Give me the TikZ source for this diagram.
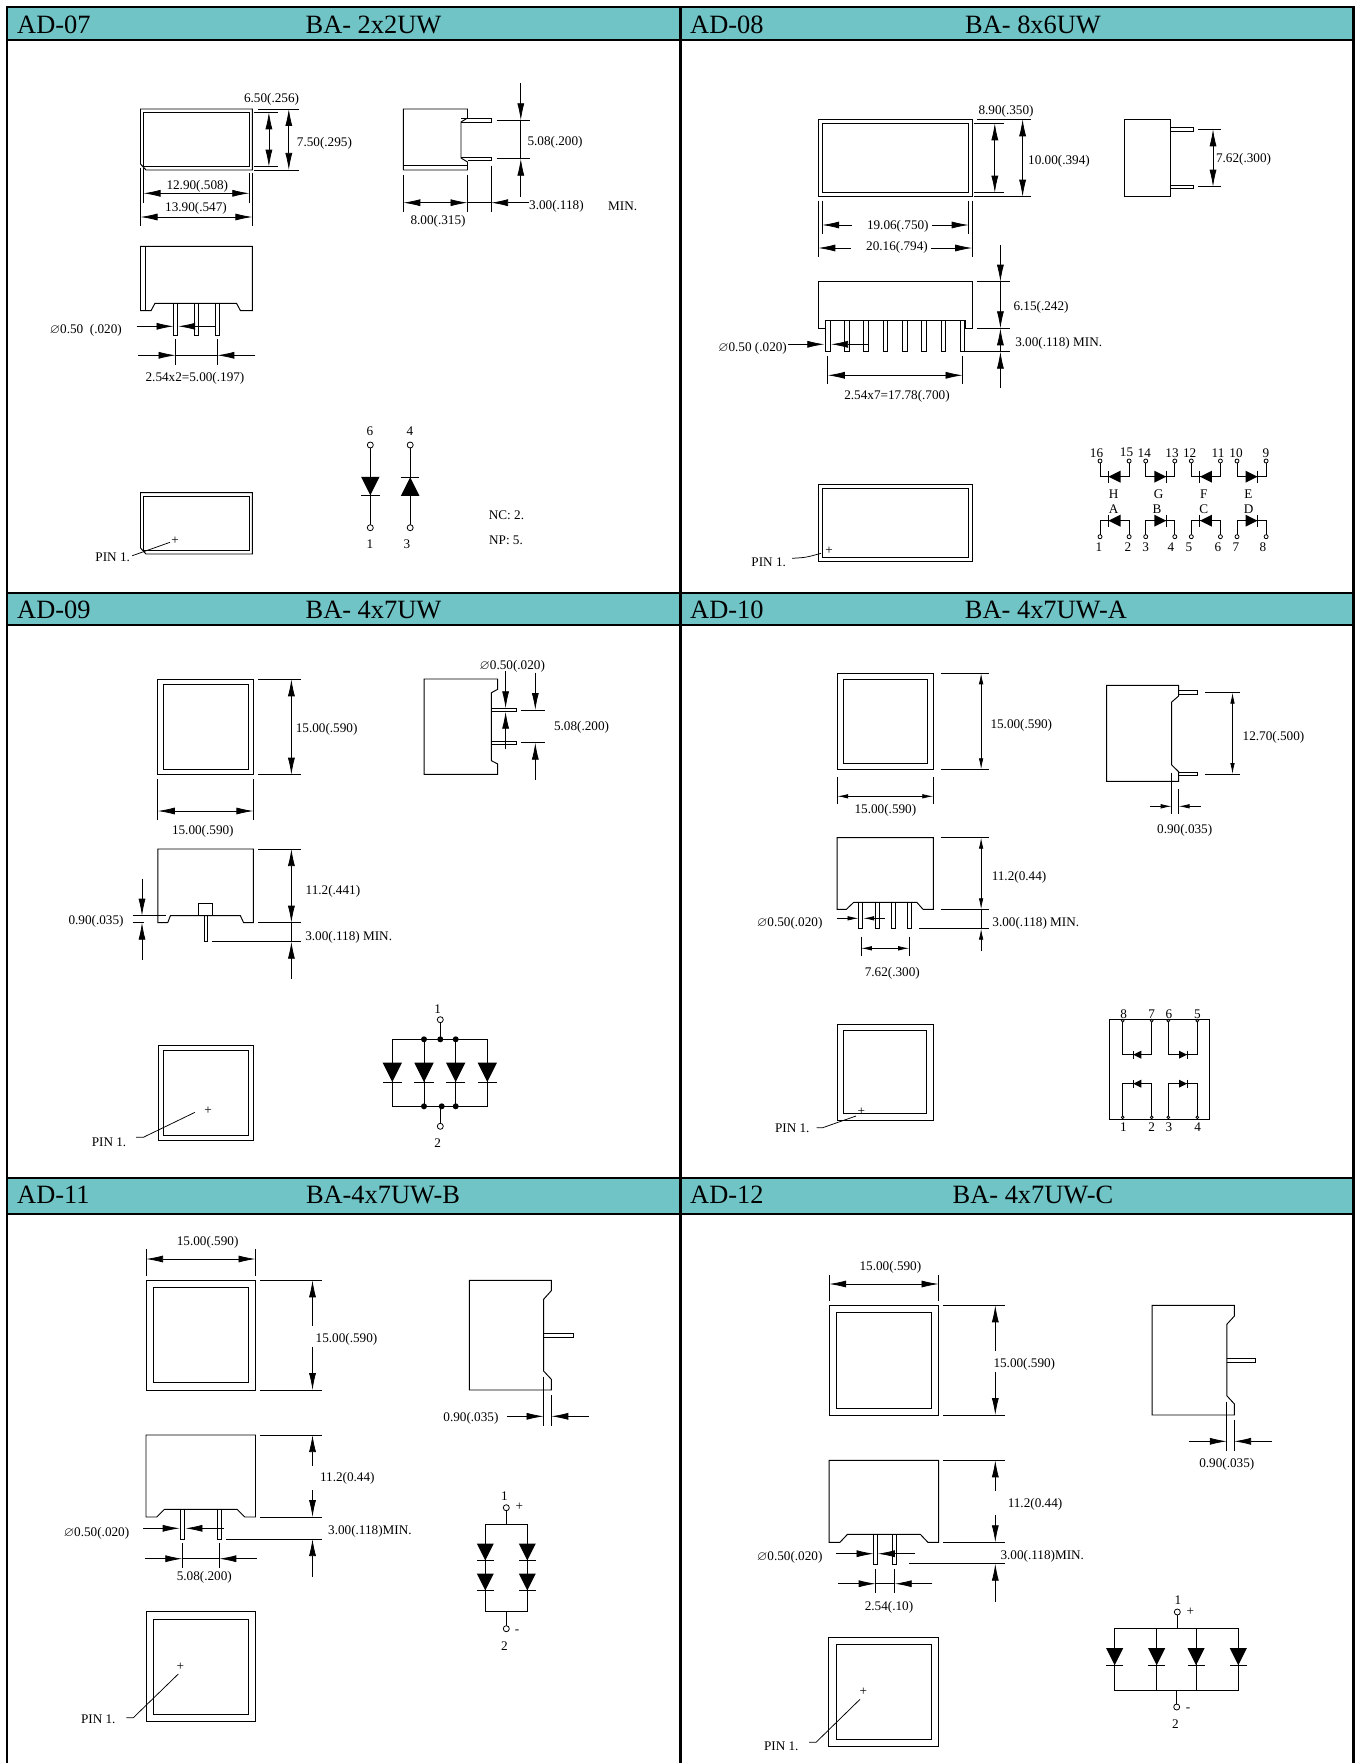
\documentclass[tikz,border=0pt]{standalone}
\usepackage{fontspec}
\usepackage{amssymb}
\setmainfont{Liberation Serif}
\usetikzlibrary{arrows.meta}
\definecolor{headteal}{RGB}{112,196,198}
\tikzset{
  frame/.style={line width=2.6pt},
  part/.style={line width=.95pt},
  dim/.style={line width=.75pt},
  tip/.style={-{Latex[length=17pt,width=7pt]}},
  tips/.style={{Latex[length=17pt,width=7pt]}-{Latex[length=17pt,width=7pt]}},
  stip/.style={-{Latex[length=11pt,width=4.5pt]}},
  stips/.style={{Latex[length=11pt,width=4.5pt]}-{Latex[length=11pt,width=4.5pt]}},
  lab/.style={font=\fontsize{13.2}{15}\selectfont,inner sep=0pt,yshift=-1pt},
  head/.style={font=\fontsize{26.4}{30}\selectfont,inner sep=0pt},
  hole/.style={line width=.8pt,fill=white},
  dot/.style={fill=black}
}
\newcommand{\diodeat}[3]{\begin{scope}[shift={(#1)},rotate=#2,scale=#3]
  \fill (-.5,-.5) -- (.5,0) -- (-.5,.5) -- cycle;
  \draw [part] (.5,-.5) -- (.5,.5);
\end{scope}}
\begin{document}
\begin{tikzpicture}[x=1pt,y=-1pt]
\useasboundingbox (0,0) rectangle (1358,1763);
\fill [white] (0,0) rectangle (1358,1763);

\fill [headteal] (6,7) rectangle (1354,40);
\fill [headteal] (6,593) rectangle (1354,625);
\fill [headteal] (6,1178) rectangle (1354,1214);
\draw [frame] (7,1763) -- (7,7) -- (1353.5,7) -- (1353.5,1763);
\draw [frame] (680.5,7) -- (680.5,1763);
\draw [frame] (7,40) -- (1353.5,40);
\draw [frame] (7,593) -- (1353.5,593);
\draw [frame] (7,625) -- (1353.5,625);
\draw [frame] (7,1178) -- (1353.5,1178);
\draw [frame] (7,1214) -- (1353.5,1214);
\node [head,anchor=west] (ad07) at (17,24.5) {AD-07};
\node [head] (ba07) at (373.5,24.5) {BA- 2x2UW};
\node [head,anchor=west] (ad08) at (690,24.5) {AD-08};
\node [head] (ba08) at (1033,24.5) {BA- 8x6UW};
\node [head,anchor=west] (ad09) at (17,610) {AD-09};
\node [head] (ba09) at (373.5,610) {BA- 4x7UW};
\node [head,anchor=west] (ad10) at (690,610) {AD-10};
\node [head] (ba10) at (1046,610) {BA- 4x7UW-A};
\node [head,anchor=west] (ad11) at (17,1195) {AD-11};
\node [head] (ba11) at (383,1195) {BA-4x7UW-B};
\node [head,anchor=west] (ad12) at (690,1195) {AD-12};
\node [head] (ba12) at (1033,1195) {BA- 4x7UW-C};

\draw [part] (140.5,109) -- (252.4,109) -- (252.4,170) -- (146,170) -- (140.5,164) -- cycle;
\draw [part] (143.5,112.3) rectangle (249.3,166.7);
\draw [dim] (257.6,109) -- (298.8,109);
\draw [dim] (253.7,112.3) -- (278,112.3);
\draw [dim] (253.7,166.7) -- (278,166.7);
\draw [dim] (253.7,170) -- (298.8,170);
\draw [dim,tips] (268.9,112.3) -- (268.9,166.7);
\draw [dim,tips] (288.8,109) -- (288.8,170);
\node [lab] (a07h1) at (271.5,98.7) {6.50(.256)};
\node [lab] (a07h2) at (324.4,142.7) {7.50(.295)};
\draw [dim] (140.5,168) -- (140.5,226);
\draw [dim] (143.5,168) -- (143.5,203);
\draw [dim] (249.3,173) -- (249.3,203);
\draw [dim] (252.4,173) -- (252.4,226);
\draw [dim,tips] (143.5,193.3) -- (249.3,193.3);
\draw [dim,tips] (140.5,217) -- (252.4,217);
\node [lab] (a07w1) at (197.3,185) {12.90(.508)};
\node [lab] (a07w2) at (196,207.7) {13.90(.547)};
\draw [part] (403.3,109) -- (467.5,109) -- (467.5,118) -- (461,122) -- (461,158) -- (467.5,162) -- (467.5,170) -- (403.3,170) -- cycle;
\draw [part] (403.3,165) -- (467.5,165);
\draw [part] (461,118.3) -- (491.3,118.3) -- (491.3,122.3) -- (461,122.3);
\draw [part] (461,157) -- (491.3,157) -- (491.3,160.7) -- (467.5,160.7);
\draw [dim] (496.5,120.3) -- (530,120.3);
\draw [dim] (496.5,158.7) -- (530,158.7);
\draw [dim,tip] (520.8,83.3) -- (520.8,120.3);
\draw [dim,tip] (520.8,196.7) -- (520.8,158.7);
\draw [dim] (520.8,120.3) -- (520.8,158.7);
\node [lab] (a07p) at (555,141.7) {5.08(.200)};
\draw [dim] (403.3,175) -- (403.3,211.7);
\draw [dim] (467.5,175) -- (467.5,211.7);
\draw [dim] (491,165.7) -- (491,211.7);
\draw [dim,tips] (403.3,202.7) -- (467.5,202.7);
\draw [line width=1.3pt] (467.5,202.7) -- (491,202.7);
\draw [dim,tip] (529,202.7) -- (491,202.7);
\node [lab] (a07l) at (556.4,205.7) {3.00(.118)};
\node [lab] (a07m) at (622.7,205) {MIN.};
\node [lab] (a07s) at (438,220.7) {8.00(.315)};
\draw [part] (140.5,246.3) -- (252.4,246.3) -- (252.4,310.7) -- (240.5,310.7) -- (236.5,303.3) -- (155,303.3) -- (151,310.7) -- (140.5,310.7) -- cycle;
\draw [part] (145.3,246.3) -- (145.3,310.7);
\draw [part] (173.9,303.3) rectangle (177.3,335);
\draw [part] (194.7,303.3) rectangle (198.1,335);
\draw [part] (215.6,303.3) rectangle (219,335);
\draw [dim,tip] (136.6,326.3) -- (173.5,326.3);
\draw [dim,tip] (215.5,326.3) -- (178.2,326.3);
\node [lab] (a07d) at (85.9,329.3) {$\varnothing$0.50\ \ (.020)};
\draw [dim] (175.6,339) -- (175.6,365);
\draw [dim] (217.3,339) -- (217.3,365);
\draw [dim,tip] (138,355.3) -- (175.6,355.3);
\draw [dim,tip] (255,355.3) -- (217.3,355.3);
\draw [dim] (175.6,355.3) -- (217.3,355.3);
\node [lab] (a07t) at (195,377.7) {2.54x2=5.00(.197)};
\draw [part] (146,554) -- (252.4,554) -- (252.4,492.7) -- (140.5,492.7) -- (140.5,548) -- cycle;
\draw [part] (143.5,496.3) rectangle (249.3,550.7);
\node [lab] (a07c) at (175.2,539.3) {+};
\draw [dim] (132.3,555.7) -- (170,542.3);
\node [lab] (a07pin) at (112.7,556) {PIN 1.};
\draw [part] (370.3,445) -- (370.3,527.7);
\draw [part] (410.2,445) -- (410.2,527.7);
\diodeat{370.3,486}{-90}{18.5}
\diodeat{410.2,486.5}{90}{18.5}
\draw [hole] (370.3,445) circle (3);
\draw [hole] (410.2,445) circle (3);
\draw [hole] (370.3,527.7) circle (3);
\draw [hole] (410.2,527.7) circle (3);
\node [lab] (a07n6) at (370,430) {6};
\node [lab] (a07n4) at (410,430) {4};
\node [lab] (a07n1) at (370,542.7) {1};
\node [lab] (a07n3) at (406.8,542.7) {3};
\node [lab] (a07nc) at (506.5,514.3) {NC: 2.};
\node [lab] (a07np) at (506,539) {NP: 5.};

\draw [part] (818.3,119.3) rectangle (972.2,196.7);
\draw [part] (822.2,123.3) rectangle (968.7,192.7);
\draw [dim] (977,119.3) -- (1031,119.3);
\draw [dim] (973.5,123.3) -- (1004,123.3);
\draw [dim] (973.5,192.7) -- (1004,192.7);
\draw [dim] (973.5,196.7) -- (1031,196.7);
\draw [dim,tips] (994.8,123.3) -- (994.8,192.7);
\draw [dim,tips] (1022.6,119.3) -- (1022.6,196.7);
\node [lab] (a08h1) at (1006,110) {8.90(.350)};
\node [lab] (a08h2) at (1059,160) {10.00(.394)};
\draw [dim] (818.3,200.7) -- (818.3,257.3);
\draw [dim] (822.2,200.7) -- (822.2,234);
\draw [dim] (968.7,200.7) -- (968.7,234);
\draw [dim] (972.2,200.7) -- (972.2,257.3);
\draw [dim,tip] (851.7,225) -- (822.2,225);
\draw [dim,tip] (932,225) -- (968.7,225);
\node [lab] (a08w1) at (897.8,225.7) {19.06(.750)};
\draw [dim,tip] (850.9,248) -- (818.3,248);
\draw [dim,tip] (931,248) -- (972.2,248);
\node [lab] (a08w2) at (897,246) {20.16(.794)};
\draw [part] (1124,119.3) rectangle (1170.6,196.7);
\draw [part] (1170.6,127.3) rectangle (1193.7,131.3);
\draw [part] (1170.6,185) rectangle (1193.7,188.7);
\draw [dim] (1198.4,129.3) -- (1221,129.3);
\draw [dim] (1198.4,186.7) -- (1221,186.7);
\draw [dim,tips] (1213,129.3) -- (1213,186.7);
\node [lab] (a08p) at (1243.5,158.7) {7.62(.300)};
\draw [part] (818.3,281.7) -- (972.2,281.7) -- (972.2,328.3) -- (965.7,328.3) -- (965.7,320) -- (825.7,320) -- (825.7,328.3) -- (818.3,328.3) -- cycle;
\draw [part] (825.6,320) rectangle (830,351.7);
\draw [part] (844.8,320) rectangle (849.2,351.7);
\draw [part] (863.8,320) rectangle (868.2,351.7);
\draw [part] (883,320) rectangle (887.4,351.7);
\draw [part] (902.6,320) rectangle (907,351.7);
\draw [part] (921.7,320) rectangle (926.1,351.7);
\draw [part] (941.3,320) rectangle (945.7,351.7);
\draw [part] (960.4,320) rectangle (964.8,351.7);
\draw [dim] (977,281.7) -- (1009.6,281.7);
\draw [dim] (977,328.3) -- (1009.6,328.3);
\draw [dim] (964.8,351.7) -- (1009.6,351.7);
\draw [dim,tip] (1000.4,245) -- (1000.4,281.7);
\draw [dim,tip] (1000.4,281.7) -- (1000.4,328.3);
\draw [dim,tip] (1000.4,351.7) -- (1000.4,328.3);
\draw [dim,tip] (1000.4,388.3) -- (1000.4,351.7);
\node [lab] (a08h3) at (1041,306) {6.15(.242)};
\node [lab] (a08l) at (1058.7,342.3) {3.00(.118) MIN.};
\node [lab] (a08d) at (752.6,347.7) {$\varnothing$0.50 (.020)};
\draw [dim,tip] (787.8,344.3) -- (824.3,344.3);
\draw [dim,tip] (867.8,344.3) -- (831,344.3);
\draw [dim] (827.8,356) -- (827.8,384.3);
\draw [dim] (962.6,356) -- (962.6,384.3);
\draw [dim,tips] (827.8,375.3) -- (962.6,375.3);
\node [lab] (a08t) at (897,395) {2.54x7=17.78(.700)};
\draw [part] (818.3,484.3) rectangle (972.2,561.3);
\draw [part] (822.2,488.3) rectangle (968.7,557.3);
\node [lab] (a08c) at (829,549.3) {+};
\draw [dim] (792,558.3) .. controls (806,557.5) .. (821,553.3);
\node [lab] (a08pin) at (768.7,561.3) {PIN 1.};
\draw [part] (1100,461) -- ++(0,15.7) -- ++(29.1,0) -- ++(0,-15.7);
\draw [part] (1145.7,461) -- ++(0,15.7) -- ++(29.1,0) -- ++(0,-15.7);
\draw [part] (1191.3,461) -- ++(0,15.7) -- ++(29.1,0) -- ++(0,-15.7);
\draw [part] (1237,461) -- ++(0,15.7) -- ++(29.1,0) -- ++(0,-15.7);
\draw [part] (1100,536.7) -- ++(0,-16) -- ++(29.1,0) -- ++(0,16);
\draw [part] (1145.7,536.7) -- ++(0,-16) -- ++(29.1,0) -- ++(0,16);
\draw [part] (1191.3,536.7) -- ++(0,-16) -- ++(29.1,0) -- ++(0,16);
\draw [part] (1237,536.7) -- ++(0,-16) -- ++(29.1,0) -- ++(0,16);
\diodeat{1114.5,476.7}{180}{12}
\diodeat{1160.3,476.7}{0}{12}
\diodeat{1205.9,476.7}{180}{12}
\diodeat{1251.5,476.7}{0}{12}
\diodeat{1114.5,520.7}{180}{12}
\diodeat{1160.3,520.7}{0}{12}
\diodeat{1205.9,520.7}{180}{12}
\diodeat{1251.5,520.7}{0}{12}
\draw [hole] (1100,461) circle (2);
\draw [hole] (1129.1,461) circle (2);
\draw [hole] (1145.7,461) circle (2);
\draw [hole] (1174.8,461) circle (2);
\draw [hole] (1191.3,461) circle (2);
\draw [hole] (1220.4,461) circle (2);
\draw [hole] (1237,461) circle (2);
\draw [hole] (1266.1,461) circle (2);
\draw [hole] (1100,536.7) circle (2);
\draw [hole] (1129.1,536.7) circle (2);
\draw [hole] (1145.7,536.7) circle (2);
\draw [hole] (1174.8,536.7) circle (2);
\draw [hole] (1191.3,536.7) circle (2);
\draw [hole] (1220.4,536.7) circle (2);
\draw [hole] (1237,536.7) circle (2);
\draw [hole] (1266.1,536.7) circle (2);
\node [lab] (a08n16) at (1096.5,451.7) {16};
\node [lab] (a08n15) at (1126.5,451.7) {15};
\node [lab] (a08n14) at (1144.3,451.7) {14};
\node [lab] (a08n13) at (1172,451.7) {13};
\node [lab] (a08n12) at (1189.6,451.7) {12};
\node [lab] (a08n11) at (1218,451.7) {11};
\node [lab] (a08n10) at (1236,451.7) {10};
\node [lab] (a08n9) at (1266,451.7) {9};
\node [lab] (a08H) at (1113.5,492.7) {H};
\node [lab] (a08G) at (1158.5,492.7) {G};
\node [lab] (a08F) at (1203.7,492.7) {F};
\node [lab] (a08E) at (1248.5,492.7) {E};
\node [lab] (a08A) at (1113.5,507.7) {A};
\node [lab] (a08B) at (1157,507.7) {B};
\node [lab] (a08C) at (1203.7,507.7) {C};
\node [lab] (a08D) at (1248.5,507.7) {D};
\node [lab] (a08n1) at (1099,546) {1};
\node [lab] (a08n2) at (1128,546) {2};
\node [lab] (a08n3) at (1145.7,546) {3};
\node [lab] (a08n4) at (1171,546) {4};
\node [lab] (a08n5) at (1189,546) {5};
\node [lab] (a08n6) at (1218,546) {6};
\node [lab] (a08n7) at (1235.8,546) {7};
\node [lab] (a08n8) at (1263,546) {8};

\draw [part] (157.8,679.3) rectangle (253.4,774.7);
\draw [part] (163.3,684) rectangle (248.7,769.7);
\draw [dim] (258.2,679.3) -- (300.9,679.3);
\draw [dim] (258.2,774.7) -- (300.9,774.7);
\draw [dim,tips] (291.4,679.3) -- (291.4,774.7);
\node [lab] (a09h1) at (326.6,728) {15.00(.590)};
\draw [dim] (157.8,779) -- (157.8,820);
\draw [dim] (253.4,779) -- (253.4,820);
\draw [dim,tips] (157.8,811) -- (253.4,811);
\node [lab] (a09w1) at (202.8,830.3) {15.00(.590)};
\draw [part] (424.2,679) -- (497.7,679) -- (497.7,689.3) -- (491.4,692.7) -- (491.4,760.7) -- (497.7,764) -- (497.7,774.3) -- (424.2,774.3) -- cycle;
\draw [part] (491.4,708.3) -- (516.3,708.3) -- (516.3,711.7) -- (491.4,711.7);
\draw [part] (491.4,741) -- (516.3,741) -- (516.3,744.3) -- (491.4,744.3);
\draw [dim] (521,710) -- (544.7,710);
\draw [dim] (521,742.7) -- (544.7,742.7);
\draw [dim,tip] (535.3,672.7) -- (535.3,710);
\draw [dim,tip] (535.3,780) -- (535.3,742.7);
\draw [dim,tip] (505.6,670.7) -- (505.6,708.3);
\draw [dim,tip] (505.6,749.3) -- (505.6,711.7);
\node [lab] (a09d) at (512.3,665) {$\varnothing$0.50(.020)};
\node [lab] (a09p) at (581.5,726) {5.08(.200)};
\draw [part] (157.8,849) -- (253.4,849) -- (253.4,922.7) -- (243.6,922.7) -- (240.4,915.7) -- (170.4,915.7) -- (167.7,922.7) -- (157.8,922.7) -- cycle;
\draw [part] (198.9,903.3) rectangle (212.7,915.7);
\draw [part] (204,915.7) rectangle (207.6,941.7);
\draw [dim] (258.2,849) -- (300.9,849);
\draw [dim] (258.2,922.7) -- (300.9,922.7);
\draw [dim] (212.3,941.7) -- (300.9,941.7);
\draw [dim,tips] (291.4,849) -- (291.4,922.7);
\draw [dim] (291.4,922.7) -- (291.4,941.7);
\draw [dim,tip] (291.4,979) -- (291.4,941.7);
\node [lab] (a09h2) at (332.9,890) {11.2(.441)};
\node [lab] (a09l) at (348.7,936.7) {3.00(.118) MIN.};
\draw [dim] (132.9,915.7) -- (165.7,915.7);
\draw [dim] (132.9,922.7) -- (143.6,922.7);
\draw [dim,tip] (142,878.7) -- (142,915.7);
\draw [dim,tip] (142,960) -- (142,922.7);
\node [lab] (a09s) at (96,920) {0.90(.035)};
\draw [part] (158.3,1045.3) rectangle (253.7,1140.7);
\draw [part] (163.7,1050.3) rectangle (248.3,1135.3);
\node [lab] (a09c) at (208,1109.3) {+};
\draw [dim] (136,1137.3) -- (143.3,1137.3) -- (195,1112.3);
\node [lab] (a09pin) at (109,1141.7) {PIN 1.};
\draw [part] (392.3,1039.3) rectangle (487.3,1106.3);
\draw [part] (424,1039.3) -- (424,1106.3);
\draw [part] (455.7,1039.3) -- (455.7,1106.3);
\draw [part] (440.3,1019.7) -- (440.3,1039.3);
\draw [part] (440.3,1106.3) -- (440.3,1126.3);
\diodeat{392.3,1072.3}{-90}{19.5}
\diodeat{424,1072.3}{-90}{19.5}
\diodeat{455.7,1072.3}{-90}{19.5}
\diodeat{487.3,1072.3}{-90}{19.5}
\fill [dot] (424,1039.3) circle (3);
\fill [dot] (440.3,1039.3) circle (3);
\fill [dot] (455.7,1039.3) circle (3);
\fill [dot] (424,1106.3) circle (3);
\fill [dot] (441.7,1106.3) circle (3);
\fill [dot] (455.7,1106.3) circle (3);
\draw [hole] (440.3,1019.7) circle (3);
\draw [hole] (440.3,1126.3) circle (3);
\node [lab] (a09n1) at (437.7,1007.7) {1};
\node [lab] (a09n2) at (437.7,1141.7) {2};

\draw [part] (837.2,673.3) rectangle (933.3,769.3);
\draw [part] (843.7,679.3) rectangle (927.1,763.3);
\draw [dim] (940.9,673.3) -- (988.8,673.3);
\draw [dim] (940.9,769.3) -- (988.8,769.3);
\draw [dim,stips] (981.1,673.3) -- (981.1,769.3);
\node [lab] (a10h1) at (1021.3,724) {15.00(.590)};
\draw [dim] (837.2,777) -- (837.2,804);
\draw [dim] (933.3,777) -- (933.3,804);
\draw [dim,stips] (837.2,796.3) -- (933.3,796.3);
\node [lab] (a10w1) at (885.4,809) {15.00(.590)};
\draw [part] (1106.6,685.3) -- (1178.6,685.3) -- (1178.6,696) -- (1171.7,702) -- (1171.7,765) -- (1178.6,771.7) -- (1178.6,781.3) -- (1106.6,781.3) -- cycle;
\draw [part] (1178.6,690.7) rectangle (1197.7,694);
\draw [part] (1178.6,772.3) rectangle (1197.7,775.7);
\draw [dim] (1205.4,692.7) -- (1239.8,692.7);
\draw [dim] (1205.4,774) -- (1239.8,774);
\draw [dim,stips] (1232.5,692.7) -- (1232.5,774);
\node [lab] (a10p) at (1273.5,736) {12.70(.500)};
\draw [dim] (1171.7,772.7) -- (1171.7,814.3);
\draw [dim] (1178.6,789) -- (1178.6,814.3);
\draw [dim,stip] (1149.5,806.3) -- (1171.7,806.3);
\draw [dim,stip] (1201.2,806.3) -- (1178.6,806.3);
\node [lab] (a10s) at (1184.7,829) {0.90(.035)};
\draw [part] (837.2,837.7) -- (933.3,837.7) -- (933.3,909.3) -- (923,909.3) -- (916.8,902.3) -- (853.7,902.3) -- (846.4,909.3) -- (837.2,909.3) -- cycle;
\draw [part] (858.9,902.3) rectangle (862.9,928.7);
\draw [part] (875,902.3) rectangle (879,928.7);
\draw [part] (891.1,902.3) rectangle (895.1,928.7);
\draw [part] (907.2,902.3) rectangle (911.2,928.7);
\draw [dim] (940.9,837.7) -- (988.8,837.7);
\draw [dim] (940.9,909.3) -- (988.8,909.3);
\draw [dim] (919.1,928.7) -- (988.8,928.7);
\draw [dim,stips] (981.1,837.7) -- (981.1,909.3);
\draw [dim] (981.1,909.3) -- (981.1,928.7);
\draw [dim,stip] (981.1,951) -- (981.1,928.7);
\node [lab] (a10h2) at (1019,876.3) {11.2(0.44)};
\node [lab] (a10l) at (1035.8,922) {3.00(.118) MIN.};
\node [lab] (a10d) at (789.8,922) {$\varnothing$0.50(.020)};
\draw [dim,stip] (837.2,918.3) -- (858.6,918.3);
\draw [dim,stip] (884.7,918.3) -- (863.2,918.3);
\draw [dim] (860.9,936.7) -- (860.9,955.7);
\draw [dim] (909.2,936.7) -- (909.2,955.7);
\draw [dim,stips] (860.9,948.3) -- (909.2,948.3);
\node [lab] (a10t) at (892.3,972.7) {7.62(.300)};
\draw [part] (837.3,1024) rectangle (933.7,1120);
\draw [part] (843.7,1030.7) rectangle (926.7,1113.7);
\node [lab] (a10c) at (861.3,1110.3) {+};
\draw [dim] (816.7,1127.7) -- (822.7,1127.7) -- (856,1116);
\node [lab] (a10pin) at (792.3,1127.7) {PIN 1.};
\draw [part] (1109,1019.3) rectangle (1209,1119);
\draw [part] (1122.7,1020.7) -- ++(0,34) -- ++(29,0) -- ++(0,-34);
\draw [part] (1168.3,1020.7) -- ++(0,34) -- ++(29,0) -- ++(0,-34);
\draw [part] (1122.7,1117.3) -- ++(0,-33.6) -- ++(29,0) -- ++(0,33.6);
\draw [part] (1168.3,1117.3) -- ++(0,-33.6) -- ++(29,0) -- ++(0,33.6);
\diodeat{1137.3,1054.7}{180}{8}
\diodeat{1183,1054.7}{0}{8}
\diodeat{1137.3,1083.7}{180}{8}
\diodeat{1183,1083.7}{0}{8}
\draw [hole] (1122.7,1020.7) circle (1.4);
\draw [hole] (1151.7,1020.7) circle (1.4);
\draw [hole] (1168.3,1020.7) circle (1.4);
\draw [hole] (1197.3,1020.7) circle (1.4);
\draw [hole] (1122.7,1117.3) circle (1.4);
\draw [hole] (1151.7,1117.3) circle (1.4);
\draw [hole] (1168.3,1117.3) circle (1.4);
\draw [hole] (1197.3,1117.3) circle (1.4);
\node [lab] (a10n8) at (1123.7,1013) {8};
\node [lab] (a10n7) at (1151.7,1013) {7};
\node [lab] (a10n6) at (1169,1013) {6};
\node [lab] (a10n5) at (1197.3,1013) {5};
\node [lab] (a10n1) at (1123.3,1126) {1};
\node [lab] (a10n2) at (1151.7,1126) {2};
\node [lab] (a10n3) at (1169,1126) {3};
\node [lab] (a10n4) at (1197.7,1126) {4};

\draw [dim] (146,1249.3) -- (146,1275.7);
\draw [dim] (255.5,1249.3) -- (255.5,1275.7);
\draw [dim,tips] (146,1259) -- (255.5,1259);
\node [lab] (a11w1) at (207.6,1241.7) {15.00(.590)};
\draw [part] (146,1280.3) rectangle (255.5,1390);
\draw [part] (153.3,1287.7) rectangle (248.6,1382.7);
\draw [dim] (260.4,1280.3) -- (321.7,1280.3);
\draw [dim] (260.4,1390) -- (321.7,1390);
\draw [dim,tip] (312.5,1325.7) -- (312.5,1280.3);
\draw [dim,tip] (312.5,1346.7) -- (312.5,1390);
\node [lab] (a11h1) at (346.5,1338) {15.00(.590)};
\draw [part] (469.4,1280.3) -- (551.3,1280.3) -- (551.3,1290.7) -- (543.6,1299.3) -- (543.6,1371) -- (551.3,1379.3) -- (551.3,1390) -- (469.4,1390) -- cycle;
\draw [part] (543.6,1333) -- (573.9,1333) -- (573.9,1337) -- (543.6,1337);
\draw [dim] (543.6,1376.7) -- (543.6,1425.7);
\draw [dim] (551.3,1395) -- (551.3,1425.7);
\draw [dim,tip] (506.9,1416.3) -- (543.6,1416.3);
\draw [dim,tip] (588.8,1416.3) -- (551.3,1416.3);
\node [lab] (a11s) at (470.9,1417.7) {0.90(.035)};
\draw [part] (146,1435) -- (255.5,1435) -- (255.5,1517) -- (244.7,1517) -- (237.1,1509.3) -- (164.4,1509.3) -- (156.7,1517) -- (146,1517) -- cycle;
\draw [part] (180.4,1509.3) rectangle (184.4,1539);
\draw [part] (217.5,1509.3) rectangle (221.5,1539);
\draw [dim] (260.4,1435) -- (321.7,1435);
\draw [dim] (260.4,1517) -- (321.7,1517);
\draw [dim] (226,1539) -- (321.7,1539);
\draw [dim,tip] (312.5,1465.7) -- (312.5,1435);
\draw [dim,tip] (312.5,1490) -- (312.5,1517);
\draw [dim,tip] (312.5,1576.7) -- (312.5,1539);
\node [lab] (a11h2) at (347.3,1477.7) {11.2(0.44)};
\node [lab] (a11l) at (369.9,1530) {3.00(.118)MIN.};
\node [lab] (a11d) at (96.6,1532) {$\varnothing$0.50(.020)};
\draw [dim,tip] (143,1528.3) -- (179.7,1528.3);
\draw [dim,tip] (223.7,1528.3) -- (185.4,1528.3);
\draw [dim] (182.3,1543.3) -- (182.3,1568.3);
\draw [dim] (219.3,1543.3) -- (219.3,1568.3);
\draw [dim,tip] (145,1558.7) -- (182.3,1558.7);
\draw [dim,tip] (257,1558.7) -- (219.3,1558.7);
\draw [dim] (182.3,1558.7) -- (219.3,1558.7);
\node [lab] (a11t) at (204.3,1576) {5.08(.200)};
\draw [part] (146,1611.7) rectangle (255.7,1721.3);
\draw [part] (153.3,1619.3) rectangle (248.3,1714);
\node [lab] (a11c) at (180.3,1665.3) {+};
\draw [dim] (126.3,1717.7) -- (133.3,1717.7) -- (178.3,1674);
\node [lab] (a11pin) at (98.3,1718.7) {PIN 1.};
\draw [part] (485.3,1524) rectangle (527.3,1611);
\draw [part] (506.3,1507.7) -- (506.3,1524);
\draw [part] (506.3,1611) -- (506.3,1628.7);
\diodeat{485.3,1552}{-90}{17}
\diodeat{527.3,1552}{-90}{17}
\diodeat{485.3,1582}{-90}{17}
\diodeat{527.3,1582}{-90}{17}
\draw [hole] (506.3,1507.7) circle (3);
\draw [hole] (506.3,1628.7) circle (3);
\node [lab] (a11n1) at (504.3,1494.7) {1};
\node [lab] (a11n2) at (504.3,1644.7) {2};
\node [lab] (a11pl) at (519.3,1505.3) {+};
\node [lab] (a11mi) at (517,1630.7) {-};

\draw [dim] (829.2,1275) -- (829.2,1301);
\draw [dim] (938.6,1275) -- (938.6,1301);
\draw [dim,tips] (829.2,1284) -- (938.6,1284);
\node [lab] (a12w1) at (890.4,1266.7) {15.00(.590)};
\draw [part] (829.2,1305.3) rectangle (938.6,1415);
\draw [part] (836,1312.7) rectangle (931.4,1408);
\draw [dim] (943.2,1305.3) -- (1004.8,1305.3);
\draw [dim] (943.2,1415) -- (1004.8,1415);
\draw [dim,tip] (995.3,1351) -- (995.3,1305.3);
\draw [dim,tip] (995.3,1372.3) -- (995.3,1415);
\node [lab] (a12h1) at (1024.3,1363) {15.00(.590)};
\draw [part] (1152.2,1305.3) -- (1234.4,1305.3) -- (1234.4,1316) -- (1226.8,1324.3) -- (1226.8,1395.7) -- (1234.4,1404) -- (1234.4,1415) -- (1152.2,1415) -- cycle;
\draw [part] (1226.8,1358.3) -- (1255.9,1358.3) -- (1255.9,1362.3) -- (1226.8,1362.3);
\draw [dim] (1226.8,1401.7) -- (1226.8,1450.7);
\draw [dim] (1234,1420) -- (1234,1450.7);
\draw [dim,tip] (1188.9,1441.3) -- (1226.8,1441.3);
\draw [dim,tip] (1271.6,1441.3) -- (1234,1441.3);
\node [lab] (a12s) at (1226.8,1463) {0.90(.035)};
\draw [part] (829.2,1460.3) -- (938.6,1460.3) -- (938.6,1542.3) -- (927.9,1542.3) -- (920.3,1534.3) -- (847.5,1534.3) -- (839.9,1542.3) -- (829.2,1542.3) -- cycle;
\draw [part] (873.5,1534.3) rectangle (877.5,1564.3);
\draw [part] (892.2,1534.3) rectangle (896.2,1564.3);
\draw [dim] (943.2,1460.3) -- (1004.8,1460.3);
\draw [dim] (943.2,1542.3) -- (1004.8,1542.3);
\draw [dim] (909.2,1563.7) -- (1004.8,1563.7);
\draw [dim,tip] (995.3,1490.7) -- (995.3,1460.3);
\draw [dim,tip] (995.3,1515) -- (995.3,1542.3);
\draw [dim,tip] (995.3,1601.7) -- (995.3,1563.7);
\node [lab] (a12h2) at (1035,1503.3) {11.2(0.44)};
\node [lab] (a12l) at (1042.3,1555) {3.00(.118)MIN.};
\node [lab] (a12d) at (789.8,1556.7) {$\varnothing$0.50(.020)};
\draw [dim,tip] (836.4,1553.7) -- (873.6,1553.7);
\draw [dim,tip] (914.5,1553.7) -- (877.8,1553.7);
\draw [dim] (875.7,1569) -- (875.7,1593.3);
\draw [dim] (894.7,1569) -- (894.7,1593.3);
\draw [dim,tip] (838.3,1583.7) -- (875.7,1583.7);
\draw [dim,tip] (932.3,1583.7) -- (894.7,1583.7);
\draw [line width=1.2pt] (875.7,1583.7) -- (894.7,1583.7);
\node [lab] (a12t) at (889,1606.7) {2.54(.10)};
\draw [part] (828.7,1637) rectangle (938.7,1746.7);
\draw [part] (836.3,1644.3) rectangle (931.3,1739.3);
\node [lab] (a12c) at (863.3,1690.3) {+};
\draw [dim] (809,1742.3) -- (816,1742.3) -- (860,1699.3);
\node [lab] (a12pin) at (781.3,1745) {PIN 1.};
\draw [part] (1114.7,1628.7) rectangle (1238.3,1690);
\draw [part] (1156.7,1628.7) -- (1156.7,1690);
\draw [part] (1196,1628.7) -- (1196,1690);
\draw [part] (1177.3,1612) -- (1177.3,1628.7);
\draw [part] (1176.7,1690) -- (1176.7,1707);
\diodeat{1114.7,1656.7}{-90}{17}
\diodeat{1156.7,1656.7}{-90}{17}
\diodeat{1196,1656.7}{-90}{17}
\diodeat{1238.3,1656.7}{-90}{17}
\draw [hole] (1177.3,1612) circle (3);
\draw [hole] (1176.7,1707) circle (3);
\node [lab] (a12n1) at (1178,1599) {1};
\node [lab] (a12n2) at (1175.3,1723.3) {2};
\node [lab] (a12pl) at (1190.3,1610.3) {+};
\node [lab] (a12mi) at (1188,1708.7) {-};
\end{tikzpicture}
\end{document}
